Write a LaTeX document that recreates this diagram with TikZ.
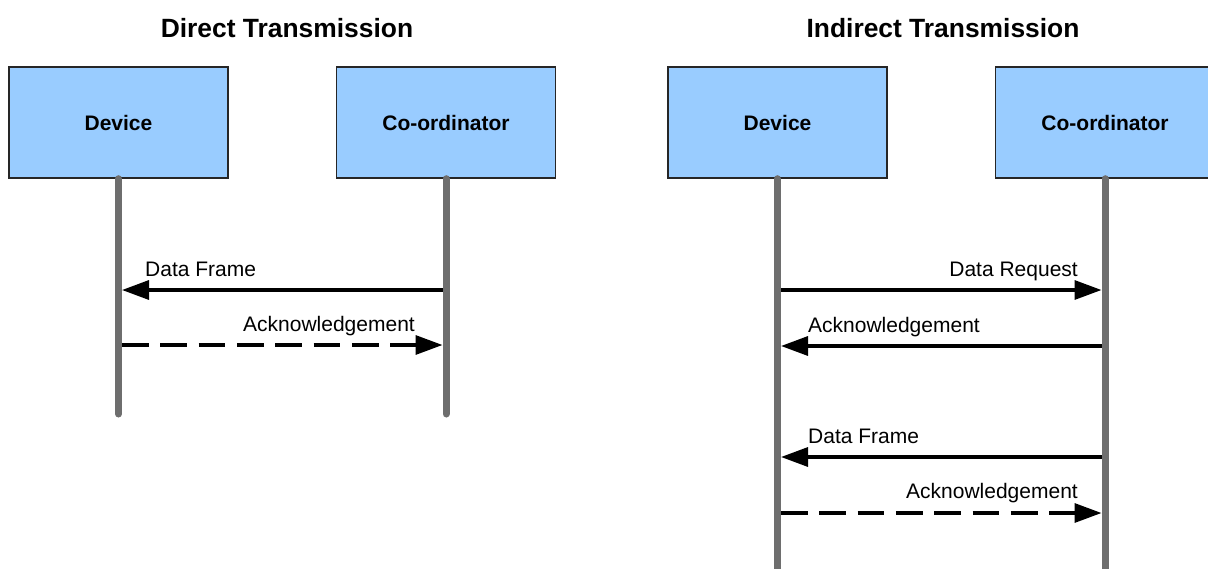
\documentclass[tikz,border=0pt]{standalone}
\usepackage{fontspec}
\setmainfont{Liberation Sans}
\usetikzlibrary{arrows.meta}
\definecolor{boxblue}{HTML}{99CCFF}
\definecolor{lifegray}{HTML}{6E6E6E}
\tikzset{
  actor/.style={draw=black!85, line width=1.4pt, fill=boxblue, minimum width=219pt, minimum height=111pt, inner sep=0pt, font=\fontsize{21}{24}\selectfont\bfseries},
  lifeline/.style={draw=lifegray, line width=7pt, line cap=round},
  msg/.style={draw=black, line width=3.3pt, -{Triangle[length=27pt,width=19pt]}, shorten >=3.5pt, shorten <=3.5pt},
  ackmsg/.style={msg, dash pattern=on 26.7pt off 11.6pt},
  lbl/.style={inner sep=0pt, font=\fontsize{21}{24}\selectfont},
  ttl/.style={inner sep=0pt, anchor=base, font=\fontsize{26.4}{30}\selectfont\bfseries}
}
\begin{document}
\begin{tikzpicture}[x=1pt,y=-1pt]
\useasboundingbox (0,0) rectangle (1208,568);
\begin{scope}
\clip (0,0) rectangle (1208,568);
% titles
\node[ttl] (t1) at (287,37) {Direct Transmission};
\node[ttl] (t2) at (943,37) {Indirect Transmission};
% actors
\node[actor] (dev1) at (118.5,122.5) {Device};
\node[actor] (co1) at (446,122.5) {Co-ordinator};
\node[actor] (dev2) at (777.5,122.5) {Device};
\node[actor] (co2) at (1105,122.5) {Co-ordinator};
% lifeline ends
\coordinate (dev1end) at (118.5,414);
\coordinate (co1end) at (446,414);
\coordinate (dev2end) at (777.5,580);
\coordinate (co2end) at (1105,580);
\draw[lifeline] (dev1.south) -- (dev1end);
\draw[lifeline] (co1.south) -- (co1end);
\draw[lifeline] (dev2.south) -- (dev2end);
\draw[lifeline] (co2.south) -- (co2end);
% message points
\coordinate (d1a) at (118.5,290);
\coordinate (c1a) at (446,290);
\coordinate (d1b) at (118.5,345);
\coordinate (c1b) at (446,345);
\coordinate (d2a) at (777.5,290);
\coordinate (c2a) at (1105,290);
\coordinate (d2b) at (777.5,346);
\coordinate (c2b) at (1105,346);
\coordinate (d2c) at (777.5,457);
\coordinate (c2c) at (1105,457);
\coordinate (d2d) at (777.5,513);
\coordinate (c2d) at (1105,513);
% direct
\draw[msg] (c1a) -- (d1a);
\node[lbl, anchor=base west] (l1) at (145,276) {Data Frame};
\draw[ackmsg] (d1b) -- (c1b);
\node[lbl, anchor=base east] (l2) at (415,331) {Acknowledgement};
% indirect
\draw[msg] (d2a) -- (c2a);
\node[lbl, anchor=base east] (l3) at (1078,276) {Data Request};
\draw[msg] (c2b) -- (d2b);
\node[lbl, anchor=base west] (l4) at (808,332) {Acknowledgement};
\draw[msg] (c2c) -- (d2c);
\node[lbl, anchor=base west] (l5) at (808,443) {Data Frame};
\draw[ackmsg] (d2d) -- (c2d);
\node[lbl, anchor=base east] (l6) at (1078,498) {Acknowledgement};
\end{scope}
\end{tikzpicture}
\end{document}
